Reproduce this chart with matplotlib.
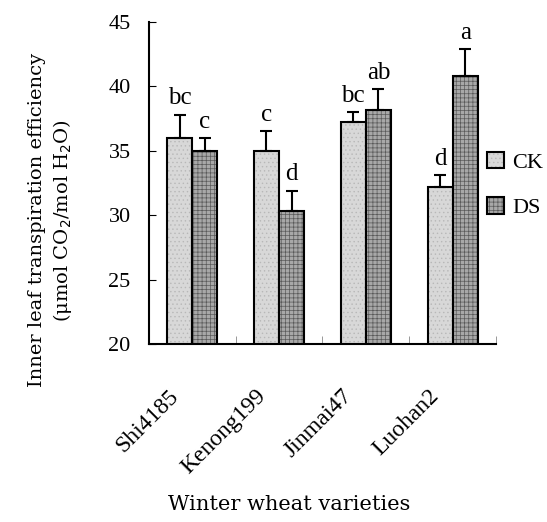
import matplotlib.pyplot as plt
import matplotlib.transforms as mtransforms
import numpy as np

varieties = ['Shi4185', 'Kenong199', 'Jinmai47', 'Luohan2']
ck_mean = [36.0, 35.0, 37.2, 32.2]
ck_err = [1.8, 1.5, 0.8, 0.9]
ds_mean = [35.0, 30.3, 38.2, 40.8]
ds_err = [1.0, 1.6, 1.6, 2.1]
ck_letters = ['bc', 'c', 'bc', 'd']
ds_letters = ['c', 'd', 'ab', 'a']

plt.rcParams['font.family'] = ['Liberation Serif', 'DejaVu Serif']
plt.rcParams['hatch.linewidth'] = 0.5

fig = plt.figure(figsize=(5.47, 5.22), dpi=100)
ax = fig.add_axes([0.272, 0.341, 0.635, 0.617])

x = np.arange(len(varieties))
w = 0.29

b1 = ax.bar(x - w / 2, ck_mean, w, color='#d8d8d8', edgecolor='black',
            linewidth=1.5, hatch='....', label='CK', zorder=2)
b2 = ax.bar(x + w / 2, ds_mean, w, color='#a8a8a8', edgecolor='black',
            linewidth=1.5, hatch='++++', label='DS', zorder=2)
for b in b1:
    b._hatch_color = (0.72, 0.72, 0.72, 1)
for b in b2:
    b._hatch_color = (0.35, 0.35, 0.35, 1)

ax.errorbar(x - w / 2, ck_mean, yerr=[np.zeros(4), ck_err], fmt='none',
            ecolor='black', elinewidth=1.5, capsize=4, capthick=1.5, zorder=3)
ax.errorbar(x + w / 2, ds_mean, yerr=[np.zeros(4), ds_err], fmt='none',
            ecolor='black', elinewidth=1.5, capsize=4, capthick=1.5, zorder=3)

# letras de significancia
for i in range(len(varieties)):
    ax.text(x[i] - w / 2, ck_mean[i] + ck_err[i] + 0.8, ck_letters[i],
            ha='center', va='baseline', fontsize=18)
    ax.text(x[i] + w / 2, ds_mean[i] + ds_err[i] + 0.8, ds_letters[i],
            ha='center', va='baseline', fontsize=18)

ax.set_ylim(20, 45)
ax.set_xlim(-0.5, 3.5)
ax.set_yticks([20, 25, 30, 35, 40, 45])
ax.tick_params(axis='y', direction='in', length=5, labelsize=16, pad=13)
ax.set_xticks(x)
ax.set_xticklabels(varieties, rotation=45, ha='right', rotation_mode='anchor',
                   fontsize=17)
ax.tick_params(axis='x', length=0, pad=30)
ax.set_xticks([0.5, 1.5, 2.5, 3.5], minor=True)
ax.tick_params(axis='x', which='minor', direction='in', length=6, color='#888888')
offset = mtransforms.ScaledTranslation(-24 / 100, 0, fig.dpi_scale_trans)
for lab in ax.get_xticklabels():
    lab.set_transform(lab.get_transform() + offset)

ax.spines['top'].set_visible(False)
ax.spines['right'].set_visible(False)
ax.spines['left'].set_linewidth(1.5)
ax.spines['bottom'].set_linewidth(1.5)

fig.text(0.528, 0.033, 'Winter wheat varieties', ha='center', va='center',
         fontsize=15, family='DejaVu Serif')
fig.text(0.068, 0.578, 'Inner leaf transpiration efficiency', rotation=90,
         ha='center', va='center', fontsize=14, family='DejaVu Serif')
fig.text(0.115, 0.578, '(μmol CO$_2$/mol H$_2$O)', rotation=90,
         ha='center', va='center', fontsize=14, family='DejaVu Serif')

leg = fig.legend(loc='upper left', bbox_to_anchor=(487 / 547, 1 - 152 / 522),
                 frameon=False, fontsize=16, handlelength=0.75, handleheight=0.75,
                 handletextpad=0.4, labelspacing=1.1, borderpad=0,
                 borderaxespad=0)

fig.savefig('out.png', dpi=100)
